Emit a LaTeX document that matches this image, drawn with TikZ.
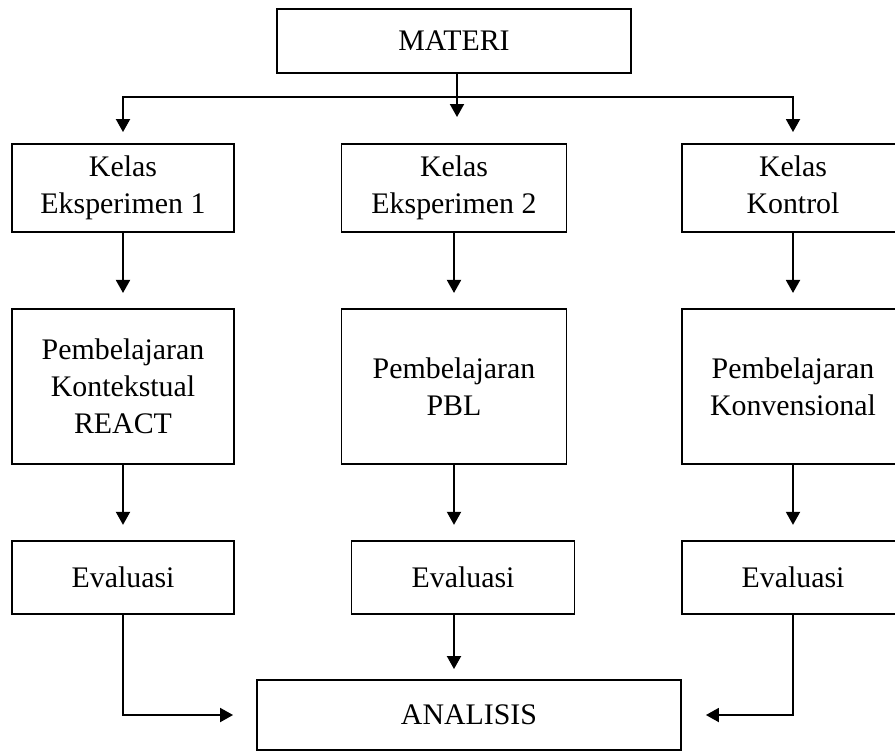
\documentclass[tikz,border=0pt]{standalone}
\usepackage{fontspec}
\setmainfont{Liberation Serif}
\usetikzlibrary{arrows.meta,positioning}

\begin{document}
\begin{tikzpicture}[x=0.02cm,y=-0.02cm,>={Triangle[length=2.6mm,width=2.8mm]},font=\fontsize{17}{21}\selectfont]
\tikzset{box/.style={draw,line width=1.1pt,align=center,minimum width=4.44cm,inner sep=2pt},
arr/.style={->,line width=1.1pt,shorten >=3mm}}
\useasboundingbox (0,0) rectangle (895,752);
\node[box,minimum width=7.08cm,minimum height=1.28cm] (materi) at (454,41) {MATERI};
\node[box,minimum height=1.76cm] (kelasA) at (123,188) {Kelas\\Eksperimen 1};
\node[box,minimum height=1.76cm,minimum width=4.5cm] (kelasB) at (454,188) {Kelas\\Eksperimen 2};
\node[box,minimum height=1.76cm] (kelasC) at (793,188) {Kelas\\Kontrol\vphantom{p}};
\node[box,minimum height=3.1cm,below=1.5cm of kelasA] (ajarA) {Pembelajaran\\Kontekstual\\REACT};
\node[box,minimum height=3.1cm,minimum width=4.5cm,below=1.5cm of kelasB] (ajarB) {Pembelajaran\\PBL};
\node[box,minimum height=3.1cm,below=1.5cm of kelasC] (ajarC) {Pembelajaran\\Konvensional};
\node[box,minimum height=1.46cm,below=1.5cm of ajarA] (evalA) {Evaluasi};
\node[box,minimum height=1.46cm,minimum width=4.46cm,below=1.5cm of ajarB,xshift=0.18cm] (evalB) {Evaluasi};
\node[box,minimum height=1.46cm,below=1.5cm of ajarC] (evalC) {Evaluasi};
\node[box,minimum width=8.48cm,minimum height=1.4cm] (analisis) at (469,715) {ANALISIS};
\coordinate (split) at (457,97);
\coordinate (mtip) at (457,117);
\draw[arr,shorten >=0pt] (materi.south -| mtip) -- (mtip);
\draw[arr,shorten >=2.2mm] (split) -| (kelasA.north);
\draw[arr,shorten >=2.2mm] (split) -| (kelasC.north);
\draw[arr] (kelasA) -- (ajarA);
\draw[arr] (kelasB) -- (ajarB);
\draw[arr] (kelasC) -- (ajarC);
\draw[arr] (ajarA) -- (evalA);
\draw[arr] (ajarB.south) -- (ajarB.south |- evalB.north);
\draw[arr] (ajarC) -- (evalC);
\draw[arr,shorten >=2mm] (evalB.south -| ajarB.south) -- (analisis.north -| ajarB.south);
\draw[arr,shorten >=4.6mm] (evalA.south) |- (analisis.west);
\draw[arr,shorten >=4.8mm] (evalC.south) |- (analisis.east);
\end{tikzpicture}
\end{document}
